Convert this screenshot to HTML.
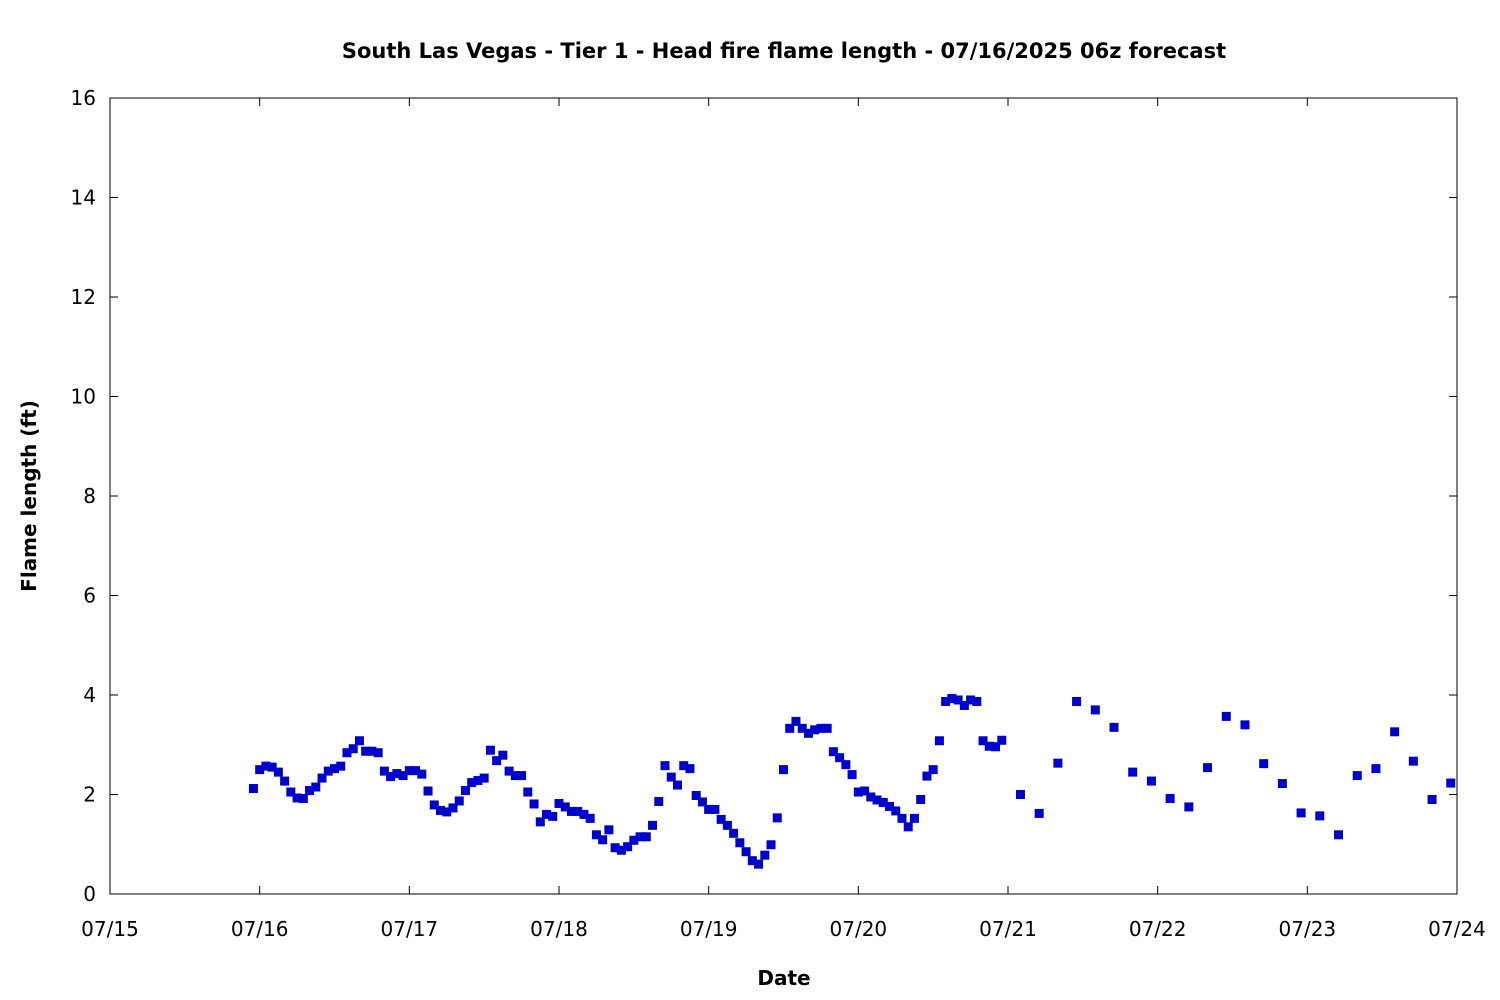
<!DOCTYPE html>
<html><head><meta charset="utf-8"><style>
body{margin:0;background:#fff;}
svg{display:block;font-family:"DejaVu Sans","Liberation Sans",sans-serif;}
</style></head><body>
<svg id="chart" width="1500" height="1000">
<text x="784" y="58" text-anchor="middle" font-size="21" font-weight="bold">South Las Vegas - Tier 1 - Head fire flame length - 07/16/2025 06z forecast</text>
<text x="784" y="985" text-anchor="middle" font-size="20" font-weight="bold">Date</text>
<text transform="translate(36,496) rotate(-90)" text-anchor="middle" font-size="20" font-weight="bold">Flame length (ft)</text>
<rect x="110" y="98" width="1347" height="796" fill="none" stroke="#000" stroke-width="1"/>
<g id="axes"></g>
<g id="points"></g>
</svg>
<script>
const xTickLabels = ["07/15","07/16","07/17","07/18","07/19","07/20","07/21","07/22","07/23","07/24"];
const yTickValues = [0,2,4,6,8,10,12,14,16];
const hourlyValues = [2.12,2.5,2.57,2.55,2.45,2.27,2.05,1.93,1.92,2.08,2.15,2.33,2.47,2.52,2.57,2.84,2.92,3.08,2.87,2.87,2.84,2.47,2.36,2.42,2.38,2.48,2.48,2.41,2.07,1.79,1.68,1.65,1.73,1.87,2.08,2.24,2.28,2.33,2.89,2.68,2.79,2.47,2.38,2.38,2.05,1.81,1.45,1.6,1.56,1.82,1.75,1.66,1.66,1.6,1.52,1.19,1.09,1.29,0.93,0.88,0.95,1.08,1.15,1.15,1.38,1.86,2.58,2.35,2.19,2.58,2.52,1.98,1.85,1.7,1.7,1.5,1.38,1.22,1.03,0.85,0.67,0.6,0.78,0.99,1.53,2.5,3.33,3.47,3.33,3.23,3.3,3.33,3.33,2.86,2.74,2.6,2.4,2.05,2.07,1.95,1.89,1.84,1.76,1.67,1.52,1.35,1.52,1.9,2.37,2.5,3.08,3.87,3.93,3.9,3.79,3.9,3.87,3.08,2.97,2.96,3.09];
const hourlyStart = -1; // hours relative to 07/16 00z
const threeHourlyValues = [2.0,1.62,2.63,3.87,3.7,3.35,2.45,2.27,1.92,1.75,2.54,3.57,3.4,2.62,2.22,1.63,1.57,1.19,2.38,2.52,3.26,2.67,1.9,2.23];
const threeHourlyStart = 122;

const X0=110, X1=1457, Y0=894, Y1=98;
const dayPx=(X1-X0)/9;
function xScale(hoursFrom16){return X0+dayPx*(1+hoursFrom16/24);}
function yScale(v){return Y0-(v/16)*(Y0-Y1);}
const NS="http://www.w3.org/2000/svg";
const axes=document.getElementById('axes');
function mk(tag,attrs,parent){const e=document.createElementNS(NS,tag);for(const k in attrs)e.setAttribute(k,attrs[k]);parent.appendChild(e);return e;}
xTickLabels.forEach((lab,i)=>{
  const x=X0+i*dayPx;
  const t1=mk('line',{x1:x,x2:x,y1:Y0,y2:Y0-8,stroke:'#000'},axes);
  
  
  const t2=mk('line',{x1:x,x2:x,y1:Y1,y2:Y1+8,stroke:'#000'},axes);
  
  
  const tx=mk('text',{x:x,y:936,'text-anchor':'middle','font-size':'20'},axes);
  tx.textContent=lab;
  
  
});
yTickValues.forEach(v=>{
  const y=yScale(v);
  const t1=mk('line',{x1:X0,x2:X0+8,y1:y,y2:y,stroke:'#000'},axes);
  
  
  const t2=mk('line',{x1:X1,x2:X1-8,y1:y,y2:y,stroke:'#000'},axes);
  
  
  const tx=mk('text',{x:96,y:y+7,'text-anchor':'end','font-size':'20'},axes);
  tx.textContent=v;
  
  
});
const pts=document.getElementById('points');
function dot(h,v){
  const r=mk('rect',{x:xScale(h)-4.5,y:yScale(v)-4.5,width:9,height:9,fill:'#0000cc'},pts);
  
  
}
hourlyValues.forEach((v,i)=>dot(hourlyStart+i,v));
threeHourlyValues.forEach((v,i)=>dot(threeHourlyStart+3*i,v));
</script>
</body></html>
